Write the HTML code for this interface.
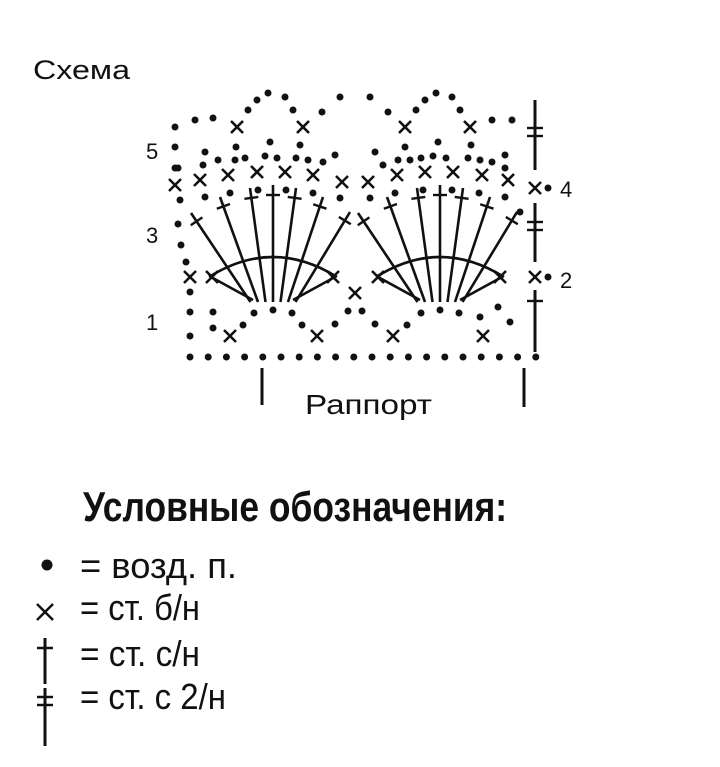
<!DOCTYPE html>
<html><head><meta charset="utf-8"><style>
html,body{margin:0;padding:0;background:#fff;}
svg{display:block;}
text{font-family:"Liberation Sans","DejaVu Sans",sans-serif;fill:#111;}
</style></head><body>
<svg id="s" width="720" height="767" viewBox="0 0 720 767" xmlns="http://www.w3.org/2000/svg">
<text x="33" y="79" font-size="27" textLength="97" lengthAdjust="spacingAndGlyphs">Схема</text>
<text x="146" y="159" font-size="22">5</text>
<text x="146" y="243" font-size="22">3</text>
<text x="146" y="330" font-size="22">1</text>
<text x="560" y="197" font-size="22">4</text>
<text x="560" y="288" font-size="22">2</text>
<text x="305" y="414" font-size="28" textLength="127" lengthAdjust="spacingAndGlyphs">Раппорт</text>
<line x1="262" y1="368" x2="262" y2="405" stroke="#111" stroke-width="3"/>
<line x1="524" y1="368" x2="524" y2="407" stroke="#111" stroke-width="3"/>
<text x="83" y="521" font-size="42" font-weight="bold" textLength="424" lengthAdjust="spacingAndGlyphs">Условные обозначения:</text>
<circle cx="47" cy="565" r="5.5" fill="#111"/>
<text x="80" y="578" font-size="36" textLength="157" lengthAdjust="spacingAndGlyphs">= возд. п.</text>
<line x1="37" y1="604" x2="53" y2="620" stroke="#111" stroke-width="2.5"/>
<line x1="37" y1="620" x2="53" y2="604" stroke="#111" stroke-width="2.5"/>
<text x="80" y="620" font-size="36" textLength="120" lengthAdjust="spacingAndGlyphs">= ст. б/н</text>
<line x1="45" y1="638" x2="45" y2="684" stroke="#111" stroke-width="3"/>
<line x1="37" y1="648" x2="53" y2="648" stroke="#111" stroke-width="2.5"/>
<text x="80" y="666" font-size="36" textLength="120" lengthAdjust="spacingAndGlyphs">= ст. с/н</text>
<line x1="45" y1="688" x2="45" y2="746" stroke="#111" stroke-width="3"/>
<line x1="37" y1="697" x2="53" y2="697" stroke="#111" stroke-width="2.5"/>
<line x1="37" y1="705" x2="53" y2="705" stroke="#111" stroke-width="2.5"/>
<text x="80" y="709" font-size="36" textLength="146" lengthAdjust="spacingAndGlyphs">= ст. с 2/н</text>
<g id="g" stroke="#111" fill="#111"></g>
</svg>
<script>
var g=document.getElementById('g'),NS='http://www.w3.org/2000/svg';
function el(t,a){var e=document.createElementNS(NS,t);for(var k in a)e.setAttribute(k,a[k]);g.appendChild(e);return e;}
function d(x,y){el('circle',{cx:x,cy:y,r:3.5,stroke:'none'});}
function X(x,y){var s=6;el('line',{x1:x-s,y1:y-s,x2:x+s,y2:y+s,'stroke-width':2.6});el('line',{x1:x-s,y1:y+s,x2:x+s,y2:y-s,'stroke-width':2.6});}
function L(x1,y1,x2,y2,w){el('line',{x1:x1,y1:y1,x2:x2,y2:y2,'stroke-width':w||2.6});}
function tick(x1,y1,x2,y2,t){var dx=x2-x1,dy=y2-y1,l=Math.hypot(dx,dy),ux=dx/l,uy=dy/l,px=-uy*7,py=ux*7;var cx=x2-ux*t,cy=y2-uy*t;L(cx-px,cy-py,cx+px,cy+py,2.4);}
for(var i=0;i<20;i++)d(190+i*18.2,357);
[[230,336],[317,336],[393,336],[483,336]].forEach(function(p){X(p[0],p[1]);});
[[190,336],[190,312],[190,292],[213,312],[243,325],[213,328],[302,325],[335,324],[348,311],[362,311],[375,324],[407,325],[480,317],[498,307],[510,322]].forEach(function(p){d(p[0],p[1]);});
[[273,310],[440,310]].forEach(function(c){
 var cx=c[0],cy=c[1];
 d(cx-19,313);d(cx,310);d(cx+19,313);
 var tops2=[[-82,213],[-53,197],[-23,188],[0,185],[23,188],[50,197],[77,212]];
 tops2.forEach(function(t,i){var sx=cx+(i-3)*7.5;L(sx,cy-8,cx+t[0],t[1]);tick(sx,cy-8,cx+t[0],t[1],10);});
 L(cx-20,cy-10,cx-62,cy-33);L(cx+20,cy-10,cx+62,cy-33);
 el('path',{d:'M'+(cx-64)+' 277 Q'+cx+' 237 '+(cx+64)+' 277',fill:'none','stroke-width':2.6});
});
X(190,277);X(212,277);X(333,277);X(378,277);X(500,277);X(355,293);
L(535,100,535,170,3);L(527,128,543,128,2.4);L(527,136,543,136,2.4);
X(535,188);d(548,188);
L(535,203,535,262,3);L(527,222,543,222,2.4);L(527,230,543,230,2.4);
X(535,277);d(548,277);
L(535,290,535,352,3);L(527,301,543,301,2.4);
d(178,224);d(181,245);d(186,262);
[[175,185],[200,180],[228,175],[257,172],[285,172],[313,175],[342,182],[368,182],[397,175],[425,172],[453,172],[482,175],[508,180]].forEach(function(p){X(p[0],p[1]);});
[[180,200],[205,197],[230,193],[258,190],[286,190],[313,193],[340,198],[370,198],[395,193],[423,190],[452,190],[479,193],[505,197],[520,212]].forEach(function(p){d(p[0],p[1]);});
[[175,147],[175,168],[178,168],[205,152],[203,165],[218,160],[236,147],[235,160],[245,158],[270,142],[265,156],[277,158],[300,145],[296,158],[308,160],[323,162],[335,155],[375,152],[383,165],[398,160],[405,147],[410,160],[421,158],[438,142],[433,156],[446,158],[471,145],[468,158],[480,160],[492,162],[505,155],[505,168]].forEach(function(p){d(p[0],p[1]);});
[[237,127],[303,127],[405,127],[470,127]].forEach(function(p){X(p[0],p[1]);});
[[175,127],[195,120],[213,118],[248,110],[257,100],[268,93],[285,97],[293,110],[322,112],[340,97],[370,97],[388,112],[416,110],[425,100],[436,93],[452,97],[460,110],[492,120],[512,120]].forEach(function(p){d(p[0],p[1]);});
</script>
</body></html>
